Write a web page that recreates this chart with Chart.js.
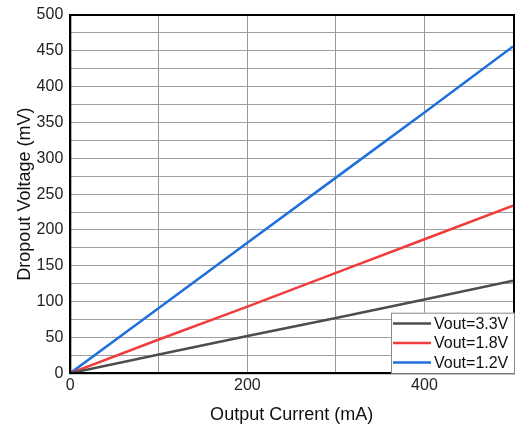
<!DOCTYPE html>
<html>
<head>
<meta charset="utf-8">
<script src="https://cdn.jsdelivr.net/npm/chart.js@4/dist/chart.umd.min.js"></script>
<style>
  html, body { margin: 0; padding: 0; background: #fff; }
  #wrap { width: 516px; height: 430px; }
</style>
</head>
<body>
<div id="wrap"><canvas id="chart"></canvas></div>
<script>
// Output current (mA)
const currents = [0, 100, 200, 300, 400, 500];

// Dropout voltage (mV) per output voltage
const vout33 = [0, 26, 52, 77, 103, 129];
const vout18 = [0, 47, 93, 140, 187, 234];
const vout12 = [0, 91, 182, 273, 364, 456];

const seriesNames = ["Vout=3.3V", "Vout=1.8V", "Vout=1.2V"];
const seriesColors = ["#4d4d4d", "#f03c3c", "#1f6fdc"];

const FONT = "'Liberation Sans', Arial, sans-serif";

const toPoints = (ys) => currents.map((x, i) => ({ x: x, y: ys[i] }));

// frame around the plot and the legend box in the lower right corner
const framePlugin = {
  id: "frame",
  afterDraw(chart) {
    const { ctx, chartArea: a } = chart;
    ctx.save();
    ctx.strokeStyle = "#000";
    ctx.lineWidth = 2;
    ctx.strokeRect(a.left, a.top, a.right - a.left + 1, a.bottom - a.top);

    const ds = chart.data.datasets;
    const w = 123, rowH = 19.5, h = ds.length * rowH + 2;
    const x0 = a.right + 1 - w, y0 = a.bottom - h;
    ctx.fillStyle = "#fff";
    ctx.fillRect(x0, y0, w, h);
    ctx.strokeStyle = "#888";
    ctx.lineWidth = 1;
    ctx.strokeRect(x0 + 0.5, y0 + 0.5, w, h);
    ctx.font = "16px " + FONT;
    ctx.textBaseline = "middle";
    ds.forEach((d, i) => {
      const y = y0 + 1 + rowH * i + rowH / 2;
      ctx.strokeStyle = d.borderColor;
      ctx.lineWidth = 2.5;
      ctx.beginPath();
      ctx.moveTo(x0 + 2, y);
      ctx.lineTo(x0 + 40, y);
      ctx.stroke();
      ctx.fillStyle = "#111";
      ctx.fillText(d.label, x0 + 43, y + 1);
    });
    ctx.restore();
  }
};

new Chart(document.getElementById("chart"), {
  type: "line",
  data: {
    datasets: [
      { label: seriesNames[0], data: toPoints(vout33), borderColor: seriesColors[0] },
      { label: seriesNames[1], data: toPoints(vout18), borderColor: seriesColors[1] },
      { label: seriesNames[2], data: toPoints(vout12), borderColor: seriesColors[2] }
    ]
  },
  options: {
    responsive: true,
    maintainAspectRatio: false,
    animation: false,
    layout: { padding: { top: 14, right: 0, left: 14, bottom: 4 } },
    elements: {
      line: { borderWidth: 2.5, tension: 0 },
      point: { radius: 0 }
    },
    plugins: {
      legend: { display: false },
      tooltip: { enabled: false }
    },
    scales: {
      x: {
        type: "linear",
        min: 0,
        max: 500,
        ticks: {
          stepSize: 100,
          color: "#222",
          font: { family: FONT, size: 16 },
          padding: 3,
          maxRotation: 0,
          callback: (v) => (v % 200 === 0 && v < 500 ? v : "")
        },
        grid: { color: "#999", lineWidth: 1, drawTicks: false },
        border: { color: "#000", width: 2 },
        title: {
          display: true,
          text: "Output Current (mA)",
          color: "#111",
          font: { family: FONT, size: 18 },
          padding: { top: 6, bottom: 0 }
        }
      },
      y: {
        min: 0,
        max: 500,
        ticks: {
          stepSize: 25,
          color: "#222",
          font: { family: FONT, size: 16, lineHeight: 1 },
          padding: 7,
          autoSkip: false,
          callback: (v) => (v % 50 === 0 ? v : "")
        },
        grid: { color: "#a0a0a0", lineWidth: 1, drawTicks: false },
        border: { color: "#000", width: 2 },
        title: {
          display: true,
          text: "Dropout Voltage (mV)",
          color: "#111",
          font: { family: FONT, size: 18 },
          padding: { top: 0, bottom: -6 }
        }
      }
    }
  },
  plugins: [framePlugin]
});
</script>
</body>
</html>
